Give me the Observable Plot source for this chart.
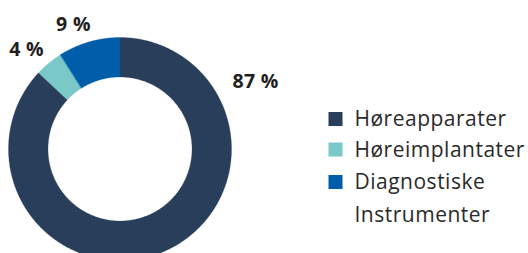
<!DOCTYPE html>
<html>
<head>
<meta charset="utf-8">
<script src="https://cdn.jsdelivr.net/npm/d3@7"></script>
<script src="https://cdn.jsdelivr.net/npm/@observablehq/plot@0.6"></script>
<style>
  html, body { margin: 0; padding: 0; background: #fff; }
  #chart { width: 528px; height: 253px; }
  svg { font-family: "Open Sans", Lato, sans-serif; }
</style>
</head>
<body>
<div id="chart"></div>
<script>
// Data
const categories = ["Høreapparater", "Høreimplantater", "Diagnostiske Instrumenter"];
const values = [87, 4, 9];
const valueLabels = ["87 %", "4 %", "9 %"];
const legendLines = [["Høreapparater"], ["Høreimplantater"], ["Diagnostiske", "Instrumenter"]];
const colors = ["#283E5A", "#7AC8C8", "#005DA9"];

// Layout
const W = 528, H = 253;
const cx = 119.5, cy = 148.5, rOuter = 111.5, rInner = 72;
const labelAngleDeg = [63.5, -43.2, -20.5];
const labelRadius = [151.4, 136.5, 132.9];

const pie = d3.pie().sort(null).value(d => d.value);
const arcs = pie(categories.map((c, i) => ({category: c, value: values[i]})));

// polygon points for each slice
const pts = [];
arcs.forEach((a) => {
  const n = Math.max(8, Math.ceil((a.endAngle - a.startAngle) / (Math.PI * 2) * 720));
  const ring = [];
  for (let k = 0; k <= n; k++) {
    const t = a.startAngle + (a.endAngle - a.startAngle) * k / n;
    ring.push([cx + rOuter * Math.sin(t), cy - rOuter * Math.cos(t)]);
  }
  for (let k = n; k >= 0; k--) {
    const t = a.startAngle + (a.endAngle - a.startAngle) * k / n;
    ring.push([cx + rInner * Math.sin(t), cy - rInner * Math.cos(t)]);
  }
  ring.forEach(([x, y]) => pts.push({x, y, category: a.data.category}));
});

const labels = valueLabels.map((t, i) => {
  const ang = labelAngleDeg[i] * Math.PI / 180;
  return {text: t, x: cx + labelRadius[i] * Math.sin(ang), y: cy - labelRadius[i] * Math.cos(ang)};
});

// legend
const legX = 328.5, sq = 14;
const legRowY = [119, 149.5, 182];
const legWrap = 33;
const legendSquares = categories.map((c, i) => ({category: c, y: legRowY[i]}));
const legendText = [];
legendLines.forEach((lines, i) => lines.forEach((l, j) => legendText.push({text: l, y: legRowY[i] + j * legWrap})));

const plot = Plot.plot({
  width: W, height: H,
  margin: 0,
  x: {domain: [0, W], range: [0, W], axis: null},
  y: {domain: [0, H], range: [0, H], axis: null},
  color: {domain: categories, range: colors},
  style: {fontFamily: "'Open Sans', Lato, sans-serif", background: "#fff"},
  marks: [
    Plot.line(pts, {x: "x", y: "y", z: "category", fill: "category", stroke: "category", strokeWidth: 0.3, curve: "linear-closed"}),
    Plot.text(labels, {x: "x", y: "y", text: "text", fontSize: 19.5, fontWeight: "bold", fill: "#1e1e1e"}),
    Plot.rect(legendSquares, {x1: legX, x2: legX + sq, y1: d => d.y - sq / 2, y2: d => d.y + sq / 2, fill: "category"}),
    Plot.text(legendText, {x: 354, y: "y", text: "text", textAnchor: "start", fontSize: 21, fill: "#2a2a2a"})
  ]
});
const legendSet = new Set(legendLines.flat());
d3.select(plot).selectAll("text")
  .filter(function() { return legendSet.has(this.textContent); })
  .style("letter-spacing", "0.5px");
d3.select(plot).selectAll("text")
  .filter(function() { return valueLabels.includes(this.textContent); })
  .style("letter-spacing", "0.3px");
document.getElementById("chart").appendChild(plot);
</script>
</body>
</html>
